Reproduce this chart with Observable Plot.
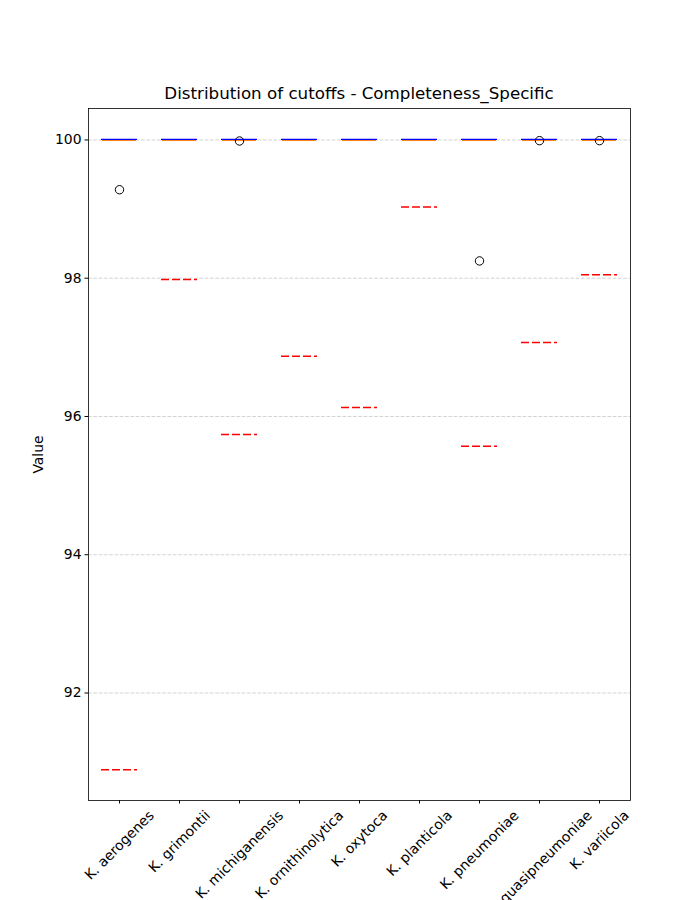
<!DOCTYPE html>
<html>
<head>
<meta charset="utf-8">
<script src="https://cdn.jsdelivr.net/npm/d3@7"></script>
<script src="https://cdn.jsdelivr.net/npm/@observablehq/plot@0.6"></script>
<style>
  body { margin: 0; background: #fff; font-family: "DejaVu Sans", sans-serif; }
  #wrap { position: relative; width: 700px; height: 900px; overflow: hidden; background: #fff; }
  #title { position: absolute; left: 0; width: 718px; top: 83px; line-height: 20px; text-align: center; font-size: 16.7px; color: #000; z-index: 2; }
  #chart { position: absolute; left: 0; top: 100px; z-index: 1; }
</style>
</head>
<body>
<div id="wrap">
  <div id="chart"></div>
  <div id="title">Distribution of cutoffs - Completeness_Specific</div>
</div>
<script>
const species = ["K. aerogenes","K. grimontii","K. michiganensis","K. ornithinolytica","K. oxytoca","K. planticola","K. pneumoniae","K. quasipneumoniae","K. variicola"];
const q1 = [100,100,100,100,100,100,100,100,100];
const medians = [100,100,100,100,100,100,100,100,100];
const q3 = [100,100,100,100,100,100,100,100,100];
const cutoffs = [90.89, 97.98, 95.74, 96.87, 96.13, 99.03, 95.57, 97.07, 98.05];
const outlierSpecies = ["K. aerogenes","K. michiganensis","K. pneumoniae","K. quasipneumoniae","K. variicola"];
const outlierValues = [99.28, 99.985, 98.25, 99.99, 99.99];
const yTicks = [92, 94, 96, 98, 100];

const boxes = species.map((s, i) => ({species: s, q1: q1[i], median: medians[i], q3: q3[i], cutoff: cutoffs[i]}));
const outliers = outlierSpecies.map((s, i) => ({species: s, value: outlierValues[i]}));

const FONT = '"DejaVu Sans", sans-serif';
const tickFont = 13.9;
const ctx = document.createElement("canvas").getContext("2d");
ctx.font = `${tickFont}px "DejaVu Sans"`;

const labelMarks = species.map(s => {
  const w = ctx.measureText(s).width;
  const h = tickFont * 1.16;
  const dy = 7 + (w + h) * Math.SQRT1_2 / 2;
  return Plot.text([s], {x: d => d, frameAnchor: "bottom", dy, rotate: -45, textAnchor: "middle", lineAnchor: "middle", fontSize: tickFont, fill: "black"});
});

const chart = Plot.plot({
  width: 700,
  height: 800,
  marginLeft: 88,
  marginRight: 70,
  marginTop: 8,
  marginBottom: 100,
  style: {fontFamily: FONT, fontSize: tickFont + "px", color: "black", background: "transparent", overflow: "visible"},
  x: {type: "band", domain: species, paddingInner: 0.4, paddingOuter: 0.2, align: 0.5, label: null},
  y: {domain: [90.445, 100.455], label: null},
  marks: [
    Plot.gridY(yTicks, {stroke: "#b0b0b0", strokeOpacity: 0.7, strokeDasharray: "3.7,1.6", strokeWidth: 0.8}),
    Plot.tickY(boxes, {x: "species", y: "cutoff", stroke: "red", strokeWidth: 1.5, strokeDasharray: "8,3"}),
    Plot.tickY(boxes, {x: "species", y: "q3", stroke: "blue", strokeWidth: 1.2, dy: -0.5}),
    Plot.tickY(boxes, {x: "species", y: "median", stroke: "#ff7f0e", strokeWidth: 1, dy: 0.6, insetLeft: 1, insetRight: 1}),
    Plot.dot(outliers, {x: "species", y: "value", r: 4.2, stroke: "black", fill: "none", strokeWidth: 1}),
    Plot.frame({stroke: "black", strokeWidth: 0.8}),
    Plot.axisY({ticks: yTicks, tickSize: 3.5, tickPadding: 3.5, fontSize: tickFont, label: null, tickFormat: d => String(d)}),
    Plot.axisX({tickSize: 3.5, tickFormat: () => "", label: null}),
    Plot.text(["Value"], {frameAnchor: "left", dx: -50, rotate: -90, fontSize: tickFont, fill: "black", textAnchor: "middle", lineAnchor: "middle"}),
    ...labelMarks
  ]
});
document.getElementById("chart").appendChild(chart);
</script>
</body>
</html>
